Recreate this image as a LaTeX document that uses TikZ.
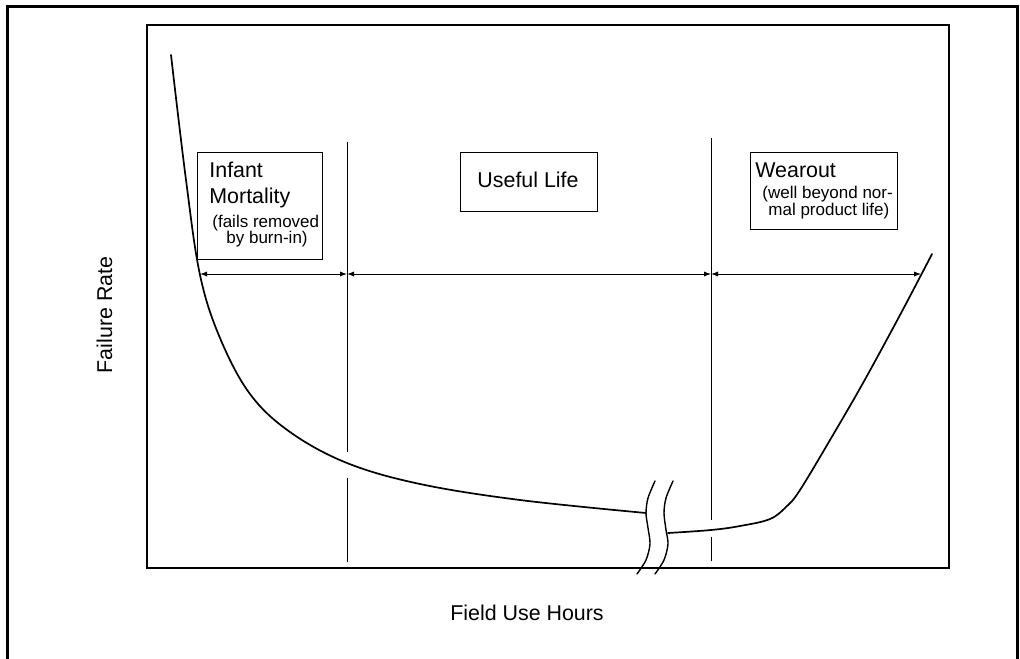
\documentclass[tikz,border=0pt]{standalone}
\usepackage{fontspec}
\setmainfont{Liberation Sans}
\usetikzlibrary{positioning,arrows.meta}
\tikzstyle{lbox}=[rectangle, draw=black, line width=0.6pt, inner sep=0pt, anchor=north west]
\tikzstyle{btxt}=[anchor=base west, inner sep=0pt, font=\fontsize{10.7}{13}\selectfont]
\tikzstyle{stxt}=[anchor=base west, inner sep=0pt, font=\fontsize{8.5}{9}\selectfont]
\tikzstyle{pline}=[-, line width=0.5pt]
\tikzstyle{dline}=[{Latex[length=3.5pt,width=2.6pt]}-{Latex[length=3.5pt,width=2.6pt]}, line width=0.5pt]
\tikzstyle{fcurve}=[line width=0.85pt, line join=round, line cap=round]

\begin{document}
\begin{tikzpicture}[x=0.5pt,y=-0.5pt]
\useasboundingbox (0,0) rectangle (1020,658);

% frame and plot area
\draw[line width=1.5pt] (7,664) -- (7,7) -- (1017,7) -- (1017,664);
\node (PLOT) [lbox, line width=0.85pt, minimum width=401pt, minimum height=271.5pt] at (146,24) {};

% region boxes
\node (INFB) [lbox, minimum width=62.5pt, minimum height=53.5pt] at (197,152) {};
\node (INFa) [btxt] at (209,177) {Infant};
\node (INFb) [btxt] at (209,203) {Mortality};
\node (INFc) [stxt] at (212,227) {(fails removed};
\node (INFd) [stxt] at (226,243) {by burn-in)};

\node (USEB) [lbox, minimum width=68.5pt, minimum height=29.5pt] at (460,152) {};
\node (USEa) [btxt, anchor=base] at (528,187) {Useful Life};

\node (WEARB) [lbox, minimum width=73.5pt, minimum height=38.5pt] at (750,152) {};
\node (WEARa) [btxt] at (755,177) {Wearout};
\node (WEARb) [stxt] at (762,198) {(well beyond nor-};
\node (WEARc) [stxt] at (768,215) {mal product life)};

% axis labels
\node (XLAB) [btxt, anchor=base] at (527,620) {Field Use Hours};
\node (YLAB) [btxt, anchor=base, rotate=90] at (112,315) {Failure Rate};

% region borders
\coordinate (B1top) at (347,142);
\coordinate (B1a) at (347,452);
\coordinate (B1b) at (347,478);
\coordinate (B1bot) at (347,562);
\coordinate (B2top) at (711,138);
\coordinate (B2a) at (711,520);
\coordinate (B2b) at (711,537);
\coordinate (B2bot) at (711,561);
\draw[pline] (B1top) -- (B1a) (B1b) -- (B1bot);
\draw[pline] (B2top) -- (B2a) (B2b) -- (B2bot);

% spans
\coordinate (IMend) at (200,274);
\coordinate (B1mid) at (347,274);
\coordinate (B2mid) at (711,274);
\coordinate (WOend) at (921,274);
\draw[dline] (IMend) -- (B1mid);
\draw[dline] (B1mid) -- (B2mid);
\draw[dline] (B2mid) -- (WOend);

% bathtub curve
\draw[fcurve] plot[smooth, tension=0.6] coordinates {(171,55) (186,180) (200,275) (220,338) (250,394) (290,432) (347,463) (420,484) (520,500) (646,513)};
\draw[fcurve] plot[smooth, tension=0.6] coordinates {(668,533) (711,530) (740,526) (770,519) (787,506) (800,490) (830,440) (863,383) (900,315) (932,254)};

% axis break
\draw[fcurve, line width=0.7pt] plot[smooth] coordinates {(655,481) (648,498) (646,513) (648,528) (650,544) (646,560) (637,574)};
\draw[fcurve, line width=0.7pt] plot[smooth] coordinates {(673,481) (666,498) (664,513) (666,530) (668,544) (664,560) (655,574)};

\end{tikzpicture}
\end{document}
